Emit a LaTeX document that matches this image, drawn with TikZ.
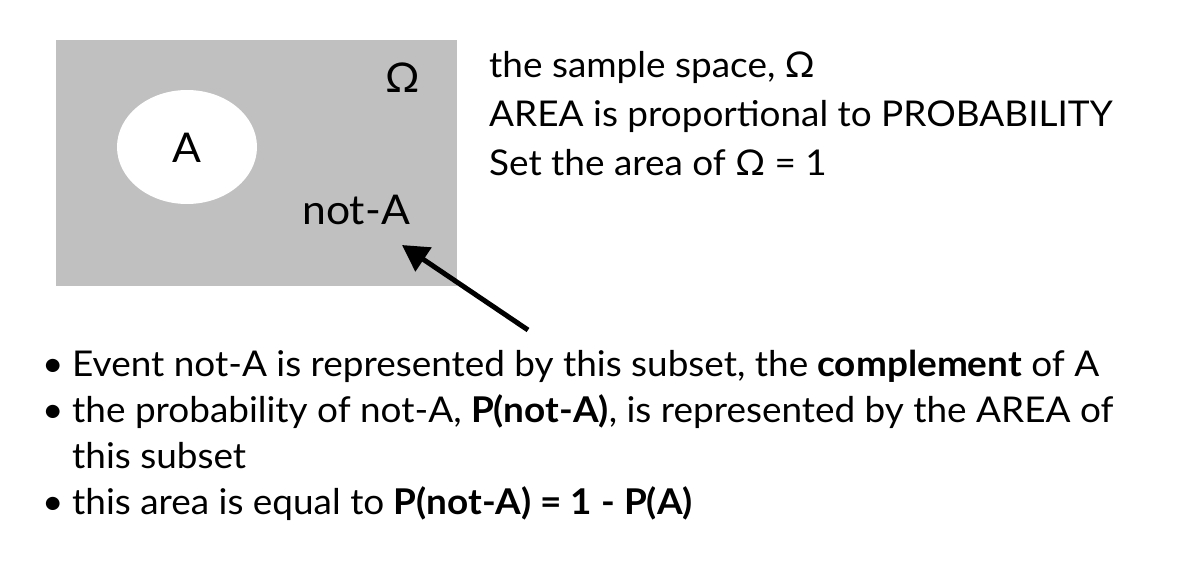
\documentclass[tikz,border=0pt]{standalone}
\usepackage{fontspec}
\setmainfont{Lato}
\usetikzlibrary{arrows.meta,shapes.geometric}
\definecolor{boxgray}{HTML}{C0C0C0}
\tikzset{
  txt/.style={anchor=base west, inner sep=0pt, font=\fontsize{35.5}{42}\selectfont, xscale=1.04, transform shape},
  lbl/.style={inner sep=0pt, font=\fontsize{41}{48}\selectfont, xscale=1.04, transform shape},
  pointer/.style={line width=5pt, -{Triangle[length=26pt,width=28pt]}}
}
\begin{document}
\begin{tikzpicture}[x=1pt,y=-1pt]
\useasboundingbox (0,0) rectangle (1186,562);
\fill[white] (0,0) rectangle (1186,562);
% sample space
\node[fill=boxgray, minimum width=401pt, minimum height=246pt, inner sep=0pt, anchor=north west] (omega) at (56,40) {};
\node[fill=white, ellipse, minimum width=140pt, minimum height=114pt, inner sep=0pt] (setA) at (187,147) {};
\node[lbl] (labA) at (187,148) {A};
\node[lbl] (labO) at (403,78) {Ω};
\node[lbl] (labnotA) at (356,210) {not-A};
% right text
\node[txt] (t1) at (489,77) {the sample space, Ω};
\node[txt] (t2) at (489,126) {AREA is proportional to PROBABILITY};
\node[txt] (t3) at (489,175) {Set the area of Ω = 1};
% arrow
\coordinate (tail) at (528,330);
\coordinate (tip) at (402,245);
\draw[pointer] (tail) -- (tip);
% bullets
\node[txt] (b1) at (42,376) {\textbullet};
\node[txt] (b2) at (42,422) {\textbullet};
\node[txt] (b4) at (42,514) {\textbullet};
\node[txt] (l1) at (72,376) {Event not-A is represented by this subset, the \textbf{complement} of A};
\node[txt] (l2) at (72,422) {the probability of not-A, \textbf{P(not-A)}, is represented by the AREA of};
\node[txt] (l3) at (72,468) {this subset};
\node[txt] (l4) at (72,514) {this area is equal to \textbf{P(not-A) = 1 - P(A)}};
\end{tikzpicture}
\end{document}
